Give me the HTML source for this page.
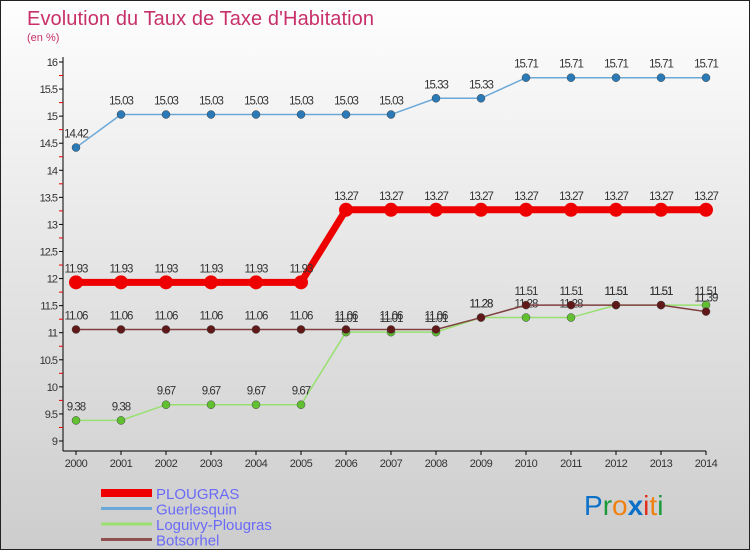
<!DOCTYPE html>
<html><head><meta charset="utf-8"><style>
body{margin:0;}
#wrap{width:750px;height:550px;position:relative;overflow:hidden;background:linear-gradient(#fefefe,#e4e4e4 50%,#cdcdcd);box-sizing:border-box;border:1px solid #222;font-family:"Liberation Sans",sans-serif;}
</style></head><body>
<div id="wrap">
<svg id="svg" width="750" height="550" style="position:absolute;left:0;top:0">
<text x="26" y="24" font-size="20" fill="#c8306a" textLength="347">Evolution du Taux de Taxe d'Habitation</text>
<text x="26" y="40" font-size="11" fill="#c8306a">(en %)</text>
<g id="axes"></g><g id="series"></g><g id="legend"></g>
<text x="583" y="514" font-size="28" font-family="'Liberation Sans',sans-serif"><tspan fill="#0a70c8">P</tspan><tspan fill="#1a9a3a">r</tspan><tspan fill="#f08010">o</tspan><tspan fill="#0a70c8" font-weight="bold">x</tspan><tspan fill="#e03020">i</tspan><tspan fill="#f08010">t</tspan><tspan fill="#1a9a3a">i</tspan></text>
</svg>
</div>
<script>
const years=[2000,2001,2002,2003,2004,2005,2006,2007,2008,2009,2010,2011,2012,2013,2014];
const plougras=[11.93,11.93,11.93,11.93,11.93,11.93,13.27,13.27,13.27,13.27,13.27,13.27,13.27,13.27,13.27];
const guerlesquin=[14.42,15.03,15.03,15.03,15.03,15.03,15.03,15.03,15.33,15.33,15.71,15.71,15.71,15.71,15.71];
const loguivy=[9.38,9.38,9.67,9.67,9.67,9.67,11.01,11.01,11.01,11.28,11.28,11.28,11.51,11.51,11.51];
const botsorhel=[11.06,11.06,11.06,11.06,11.06,11.06,11.06,11.06,11.06,11.28,11.51,11.51,11.51,11.51,11.39];
const yTicks=[9,9.5,10,10.5,11,11.5,12,12.5,13,13.5,14,14.5,15,15.5,16];
const yTickLabels=["9","9.5","10","10.5","11","11.5","12","12.5","13","13.5","14","14.5","15","15.5","16"];
const seriesNames=["PLOUGRAS","Guerlesquin","Loguivy-Plougras","Botsorhel"];
const NS="http://www.w3.org/2000/svg";
const X=i=>75+(705-75)*i/(years.length-1);
const Y=v=>440-(v-9)*(440-61)/7;
function mk(t,a,p){const e=document.createElementNS(NS,t);for(const k in a)e.setAttribute(k,a[k]);p.appendChild(e);return e;}
const ax=document.getElementById('axes');
let l=mk('line',{x1:62,y1:56,x2:62,y2:450,stroke:'#000'},ax);


l=mk('line',{x1:62,y1:450,x2:705,y2:450,stroke:'#000'},ax);


yTicks.forEach((v,i)=>{
 mk('line',{x1:58,y1:Y(v),x2:62,y2:Y(v),stroke:'#000'},ax);
 if(i<yTicks.length-1) mk('line',{x1:58,y1:(Y(v)+Y(yTicks[i+1]))/2,x2:62,y2:(Y(v)+Y(yTicks[i+1]))/2,stroke:'#e00'},ax);
 const t=mk('text',{x:56,y:Y(v)+4,'font-size':11,'text-anchor':'end',fill:'#333','letter-spacing':'-1'},ax);
 t.textContent=yTickLabels[i];
 
 
});
years.forEach((yr,i)=>{
 mk('line',{x1:X(i),y1:450,x2:X(i),y2:454,stroke:'#000'},ax);
 const t=mk('text',{x:X(i),y:466,'font-size':11,'text-anchor':'middle',fill:'#333','letter-spacing':'-0.5'},ax);
 t.textContent=yr;
 
 
});
const sg=document.getElementById('series');
const cfg=[[guerlesquin,'#6aa8d8','#2a7ab8',1.5,4,'guerlesquin'],[loguivy,'#98e070','#60c030',1.5,4,'loguivy-plougras'],[botsorhel,'#804040','#601818',1.5,4,'botsorhel'],[plougras,'#ee0000','#ee0000',7,7,'plougras']];
cfg.forEach(([d,lc,pc,w,r,n])=>{
 const g=mk('g',{},sg);
 
 
 const p=mk('polyline',{points:d.map((v,i)=>X(i)+','+Y(v)).join(' '),fill:'none',stroke:lc,'stroke-width':w},g);
 
 
 d.forEach((v,i)=>{
  const c=mk('circle',{cx:X(i),cy:Y(v),r:r,fill:pc,stroke:n=='plougras'?'none':'#444','stroke-width':0.5},g);
  
  
  const t=mk('text',{x:X(i),y:Y(v)-10,'font-size':11.5,'text-anchor':'middle',fill:'#333','letter-spacing':'-1'},g);
  t.textContent=v.toFixed(2);
  
  
 });
});
const lg=document.getElementById('legend');
const lcol=['#ee0000','#6aa8d8','#98e070','#905050'],lw=[8,3,3,3];
seriesNames.forEach((s,i)=>{
 const y=492+i*15.5;
 const g=mk('g',{},lg);
 
 
 mk('line',{x1:100,y1:y,x2:151,y2:y,stroke:lcol[i],'stroke-width':lw[i]},g);
 const t=mk('text',{x:155,y:y+6,'font-size':15,fill:'#6a6af8'},g);
 t.textContent=s;
});
</script>
</body></html>
